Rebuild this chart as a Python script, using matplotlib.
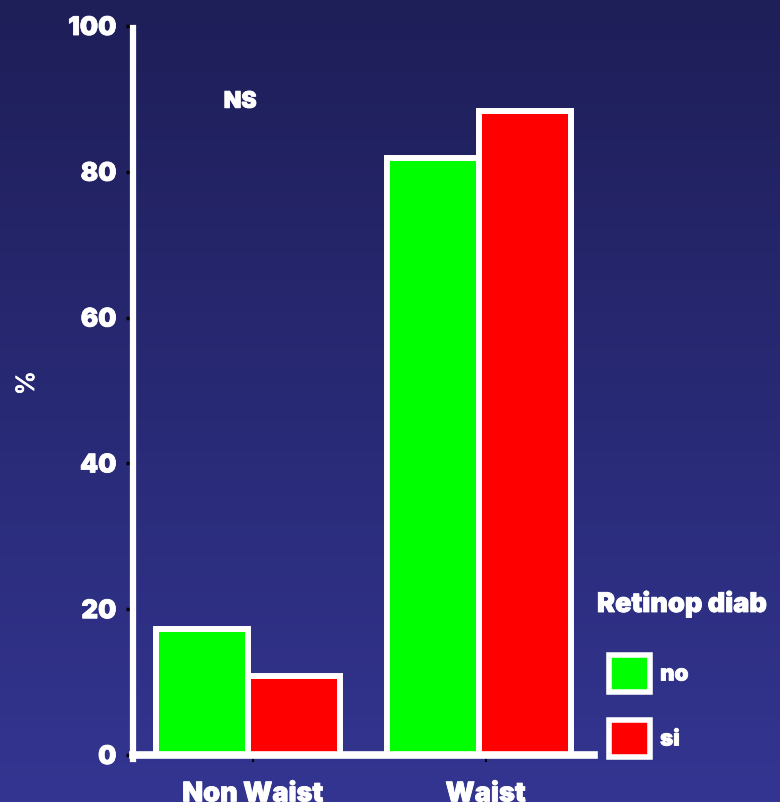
import numpy as np
import matplotlib
matplotlib.use("Agg")
import matplotlib.pyplot as plt
import matplotlib.patheffects as pe
from matplotlib import font_manager
from matplotlib.patches import Patch

# Data
categories = ["Non Waist", "Waist"]
series_names = ["no", "si"]
values_no = [17.3, 81.9]
values_si = [10.9, 88.3]
series_colors = ["#00ff00", "#ff0000"]
yticks = [0, 20, 40, 60, 80, 100]

# Prefer a black-weight sans for the heavy lettering
heavy_family, heavy_weight, stroke = "Liberation Sans", "bold", 1.6
for fam in ["Inter", "Lato", "Roboto", "Open Sans"]:
    ws = [f.weight for f in font_manager.fontManager.ttflist if f.name == fam]
    ws = [w if isinstance(w, int) else font_manager.weight_dict.get(w, 400) for w in ws]
    if ws and max(ws) >= 800:
        heavy_family, heavy_weight, stroke = fam, max(ws), 0.6
        break

plt.rcParams["font.family"] = [heavy_family, "DejaVu Sans"]
plt.rcParams["font.weight"] = heavy_weight
heavy = [pe.withStroke(linewidth=stroke, foreground="white")]

W, H = 780, 803
fig = plt.figure(figsize=(W / 100, H / 100), dpi=100)

# Vertical gradient backdrop
bg = fig.add_axes([0, 0, 1, 1], zorder=-10)
top = np.array([30, 30, 88]) / 255
bottom = np.array([51, 53, 145]) / 255
t = np.linspace(0, 1, 256)[:, None]
grad = top[None, None, :] * (1 - t[..., None]) + bottom[None, None, :] * t[..., None]
grad = np.repeat(grad, 4, axis=1)
bg.imshow(grad, aspect="auto", extent=[0, 1, 0, 1], origin="upper")
bg.set_axis_off()

ax = fig.add_axes([133 / W, (H - 756) / H, (594 - 133) / W, (756 - 27) / H])
ax.patch.set_alpha(0)

x = np.arange(len(categories))
width = 0.40
ax.bar(x - width / 2, values_no, width, color=series_colors[0],
       edgecolor="white", linewidth=4.3, label=series_names[0], zorder=3)
ax.bar(x + width / 2, values_si, width, color=series_colors[1],
       edgecolor="white", linewidth=4.3, label=series_names[1], zorder=3)

ax.set_xlim(-0.5, 1.5)
ax.set_ylim(0, 100)

for s in ["top", "right"]:
    ax.spines[s].set_visible(False)
ax.spines["left"].set_color("white")
ax.spines["left"].set_linewidth(4.5)
ax.spines["left"].set_bounds(-0.6, 99.7)
ax.spines["bottom"].set_color("white")
ax.spines["bottom"].set_linewidth(5.5)
ax.spines["bottom"].set_zorder(4)

ax.set_yticks(yticks)
ax.set_yticklabels([str(v) for v in yticks], fontsize=18.5, color="white",
                   path_effects=heavy)
ax.tick_params(axis="y", colors="black", length=5, width=2.5, pad=7, labelcolor="white")
ax.set_xticks([0.02, 1.03])
ax.set_xticklabels(categories, fontsize=19.5, color="white", path_effects=heavy)
ax.tick_params(axis="x", colors="black", length=5, width=1.5, pad=14, labelcolor="white")

ax.set_ylabel("%", fontsize=18, color="white", path_effects=heavy)
ax.yaxis.set_label_coords(-0.204, 0.51)

ax.text(-0.035, 89.6, "NS", fontsize=16.5, color="white",
        ha="center", va="center", path_effects=heavy)

# Legend: title set as its own text, entries through the legend machinery
fig.text(597 / W, (H - 613) / H, "Retinop diab", fontsize=19.5,
         color="white", ha="left", va="baseline", path_effects=heavy)
handles = [Patch(facecolor=c, edgecolor="white", linewidth=4) for c in series_colors]
leg = fig.legend(handles, series_names, loc="upper left",
                 bbox_to_anchor=(609 / W, (H - 656) / H),
                 frameon=False, prop={"size": 16, "weight": heavy_weight},
                 handlelength=1.85, handleheight=2.2, labelspacing=1.25,
                 handletextpad=0.45, borderpad=0, borderaxespad=0)
for txt in leg.get_texts():
    txt.set_color("white")
    txt.set_path_effects(heavy)

fig.savefig("out.png", dpi=100)
